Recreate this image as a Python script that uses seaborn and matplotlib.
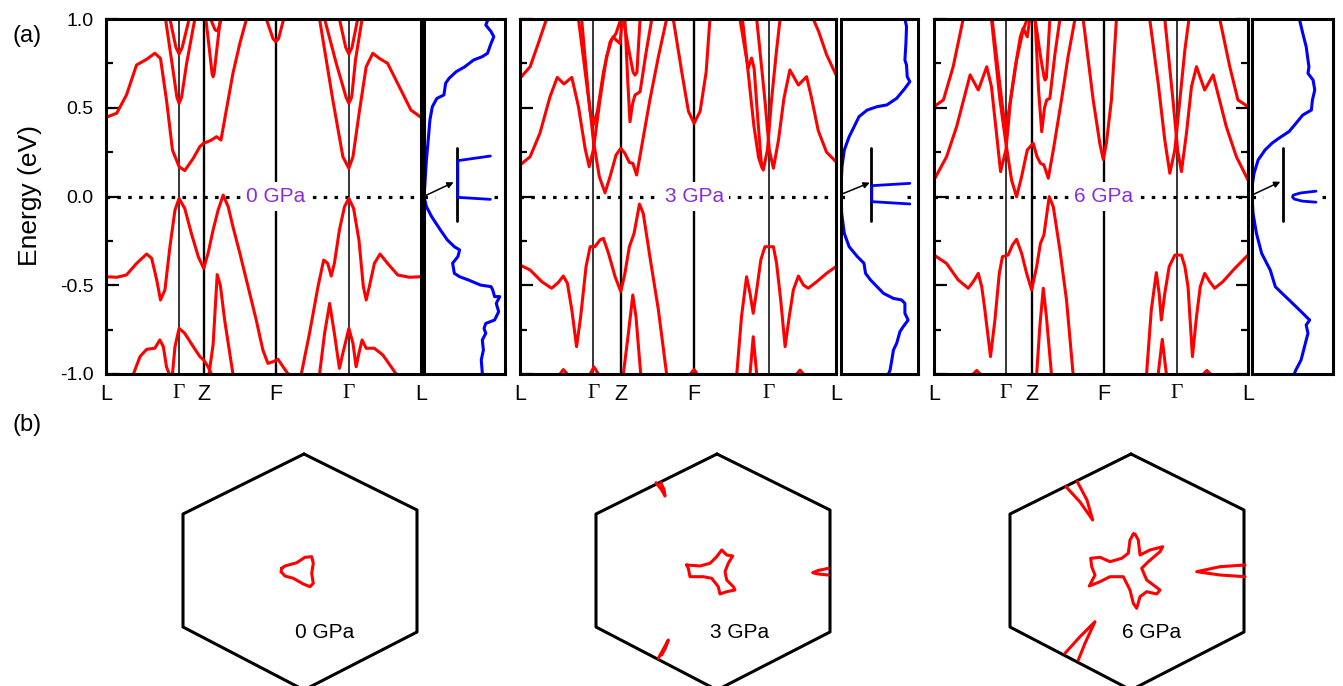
"""
Band structures, DOS and Fermi surfaces at 0, 3 and 6 GPa.
Values read off the reference figure by eye.
"""

import pandas as pd
import seaborn as sns
import matplotlib
matplotlib.use('Agg')
import matplotlib.pyplot as plt

sns.set_style('ticks', rc={'text.color': 'black', 'xtick.color': 'black',
                           'ytick.color': 'black', 'axes.labelcolor': 'black'})
plt.rcParams['font.family'] = ['Liberation Sans', 'DejaVu Sans']
plt.rcParams['axes.unicode_minus'] = False

###
# Labels

PRESSURES = ['0 GPa', '3 GPa', '6 GPa']
KPATH_LABELS = ['L', 'Γ', 'Z', 'F', 'Γ', 'L']
KPATH_POS = [[0, .232, .310, .539, .771, 1],
             [0, .232, .319, .551, .787, 1],
             [0, .229, .313, .541, .774, 1]]
E_MAJOR = [-1.0, -0.5, 0.0, 0.5, 1.0]
E_MINOR = [-0.75, -0.25, 0.25, 0.75]

###
# Bands at 0 GPa, (k along path, E in eV)

B0_CB1 = [(0, .446), (.034, .469), (.065, .572), (.097, .741), (.129, .773), (.155, .807),
          (.173, .778), (.192, .544), (.211, .262), (.232, .168), (.250, .146), (.277, .215),
          (.298, .281), (.310, .300), (.332, .315), (.351, .337), (.365, .318), (.382, .487),
          (.403, .694), (.425, .863), (.446, 1.0)]
B0_CB1R = [(.678, 1.0), (.720, .544), (.752, .224), (.771, .159), (.784, .224), (.805, .487),
           (.826, .731), (.847, .807), (.868, .778), (.894, .750), (.931, .619), (.968, .487),
           (1.0, .446)]
B0_G1 = [(.189, 1.0), (.208, .769), (.225, .56), (.232, .525), (.240, .56), (.256, .75), (.282, 1.0)]
B0_G2 = [(.203, 1.0), (.222, .84), (.232, .803), (.242, .84), (.264, 1.0)]
B0_G3 = [(.694, 1.0), (.731, .75), (.762, .56), (.771, .525), (.780, .56), (.792, .769), (.813, 1.0)]
B0_G4 = [(.741, 1.0), (.761, .84), (.771, .803), (.781, .84), (.799, 1.0)]
B0_Z1 = [(.317, 1.0), (.330, .80), (.337, .69), (.340, .675), (.343, .69), (.350, .80), (.363, 1.0)]
B0_Z2 = [(.332, 1.0), (.346, .94), (.351, .934), (.356, .94), (.366, 1.0)]
B0_F1 = [(.509, 1.0), (.530, .89), (.539, .872), (.548, .89), (.564, 1.0)]
B0_VB1 = [(0, -.452), (.034, -.455), (.065, -.442), (.097, -.377), (.129, -.324), (.145, -.348),
          (.161, -.470), (.173, -.583), (.187, -.527), (.203, -.283), (.219, -.076), (.232, -.011),
          (.250, -.067), (.271, -.208), (.293, -.339), (.310, -.405), (.324, -.320), (.340, -.189),
          (.356, -.076), (.372, .008), (.388, -.058), (.403, -.170), (.425, -.320), (.451, -.508),
          (.477, -.696), (.498, -.865), (.514, -.940), (.530, -.931), (.546, -.917), (.562, -.959),
          (.578, -1.0)]
B0_VB1R = [(.620, -1.0), (.646, -.771), (.673, -.508), (.691, -.358), (.704, -.377), (.715, -.448),
           (.725, -.377), (.741, -.189), (.757, -.058), (.771, -.011), (.786, -.067), (.803, -.245),
           (.817, -.508), (.826, -.583), (.836, -.508), (.852, -.377), (.870, -.324), (.894, -.377),
           (.926, -.442), (.963, -.455), (1.0, -.452)]
B0_VB2 = [(.087, -1.0), (.108, -.902), (.129, -.861), (.155, -.855), (.171, -.808), (.182, -.846),
          (.192, -.959), (.201, -1.0)]
B0_VB3 = [(.211, -1.0), (.219, -.846), (.232, -.743), (.250, -.771), (.277, -.846), (.298, -.902),
          (.310, -.921), (.324, -.959), (.335, -1.0)]
B0_VB4 = [(.327, -1.0), (.340, -.835), (.353, -.44), (.363, -.50), (.377, -.70), (.403, -1.0)]
B0_VB2R = [(.678, -1.0), (.694, -.771), (.710, -.602), (.725, -.771), (.741, -.968), (.752, -.883),
           (.771, -.743), (.784, -.827), (.794, -.959), (.803, -.883), (.813, -.808), (.826, -.855),
           (.852, -.855), (.879, -.893), (.905, -.959), (.921, -1.0)]

###
# Bands at 3 GPa

B3_C0 = [(0, .666), (.032, .731), (.058, .863), (.084, 1.0)]
B3_CB1 = [(0, .177), (.032, .224), (.063, .356), (.095, .562), (.118, .671), (.139, .634),
          (.164, .671), (.185, .506), (.206, .271), (.219, .168), (.232, .262), (.253, .544),
          (.274, .788), (.290, .882), (.304, .919), (.319, 1.0)]
B3_CB2 = [(.195, 1.0), (.216, .581), (.232, .318), (.251, .112), (.269, .021), (.285, .112),
          (.304, .234), (.319, .271), (.332, .243), (.346, .192), (.357, .187), (.369, .121),
          (.385, .281), (.411, .544), (.438, .788), (.464, 1.0)]
B3_G1 = [(.185, 1.0), (.205, .72), (.222, .48), (.232, .403), (.245, .48), (.264, .70),
         (.285, .87), (.295, .90), (.305, .88), (.316, .863), (.325, 1.0)]
B3_CB1R = [(1.0, .196), (.970, .25), (.944, .37), (.922, .56), (.907, .675), (.881, .628),
           (.854, .713), (.835, .55), (.818, .318), (.802, .159), (.789, .262), (.775, .544),
           (.759, .826), (.749, 1.0)]
B3_CB2R = [(.696, 1.0), (.711, .84), (.722, .722), (.733, .78), (.741, .72), (.752, .45),
           (.763, .20), (.770, .149), (.783, .262), (.796, .544), (.812, .826), (.823, 1.0)]
B3_G3 = [(.704, 1.0), (.722, .70), (.740, .40), (.755, .22), (.766, .16)]
B3_C0R = [(1.0, .685), (.970, .80), (.945, .93), (.928, 1.0)]
B3_F1 = [(.485, 1.0), (.512, .70), (.533, .48), (.551, .412), (.570, .48), (.589, .70), (.601, 1.0)]
B3_Z1 = [(.332, 1.0), (.341, .65), (.348, .421), (.356, .52), (.364, .572), (.380, .590),
         (.398, .80), (.417, 1.0)]
B3_Z2 = [(.327, 1.0), (.345, .82), (.358, .70), (.364, .684), (.370, .70), (.380, 1.0)]
B3_VB1 = [(0, -.386), (.032, -.414), (.069, -.480), (.100, -.517), (.121, -.485), (.137, -.448),
          (.150, -.489), (.164, -.639), (.179, -.846), (.192, -.677), (.209, -.395), (.222, -.283),
          (.237, -.283), (.253, -.245), (.264, -.236), (.280, -.320), (.301, -.452), (.319, -.536),
          (.332, -.433), (.346, -.283), (.361, -.208), (.378, -.043), (.390, -.095), (.411, -.339),
          (.438, -.639), (.464, -1.0)]
B3_VB1R = [(.686, -1.0), (.701, -.677), (.717, -.452), (.728, -.546), (.738, -.658), (.749, -.527),
           (.762, -.358), (.775, -.283), (.802, -.283), (.812, -.377), (.825, -.583), (.839, -.846),
           (.852, -.677), (.865, -.527), (.881, -.448), (.897, -.499), (.912, -.517), (.939, -.480),
           (.970, -.433), (1.0, -.395)]
B3_VB2 = [(.327, -1.0), (.343, -.771), (.357, -.555), (.367, -.677), (.382, -1.0)]
B3_VB2R = [(.728, -1.0), (.738, -.79), (.749, -1.0)]
B3_BUMP1 = [(.127, -1.0), (.137, -.975), (.150, -1.0)]
B3_BUMP2 = [(.222, -1.0), (.234, -.96), (.248, -1.0)]
B3_BUMP3 = [(.539, -1.0), (.551, -.975), (.561, -1.0)]
B3_BUMP4 = [(.876, -1.0), (.886, -.978), (.897, -1.0)]

###
# Bands at 6 GPa

B6_C0 = [(0, .506), (.030, .544), (.061, .731), (.093, 1.0)]
B6_CB1 = [(0, .093), (.040, .224), (.072, .393), (.115, .685), (.141, .600), (.168, .731),
          (.183, .619), (.199, .356), (.212, .140), (.229, .262), (.244, .544), (.263, .769),
          (.284, .938), (.297, 1.0)]
B6_CB2 = [(.183, 1.0), (.210, .544), (.229, .300), (.247, .093), (.263, -.002), (.279, .112),
          (.297, .262), (.316, .300), (.328, .225), (.339, .187), (.350, .178), (.364, .103),
          (.380, .262), (.406, .544), (.427, .788), (.449, 1.0)]
B6_G1 = [(.185, 1.0), (.205, .70), (.222, .45), (.229, .384), (.240, .50), (.258, .72),
         (.275, .90), (.284, .948), (.297, .90), (.305, 1.0)]
B6_CB1R = [(1.0, .093), (.963, .224), (.931, .393), (.889, .685), (.862, .600), (.836, .731),
           (.820, .619), (.804, .356), (.788, .140), (.776, .262), (.761, .544), (.745, .826),
           (.735, 1.0)]
B6_CB2R = [(.687, 1.0), (.714, .638), (.735, .318), (.751, .131), (.767, .262), (.783, .544),
           (.799, .826), (.812, 1.0)]
B6_C0R = [(1.0, .506), (.968, .544), (.942, .731), (.910, 1.0)]
B6_F1 = [(.475, 1.0), (.507, .544), (.528, .30), (.539, .209), (.549, .30), (.565, .544), (.581, 1.0)]
B6_Z1 = [(.322, 1.0), (.333, .60), (.343, .365), (.352, .50), (.359, .544), (.369, .553),
         (.385, .80), (.401, 1.0)]
B6_Z2 = [(.322, 1.0), (.340, .78), (.351, .67), (.354, .656), (.358, .67), (.369, 1.0)]
B6_VB1 = [(0, -.330), (.040, -.377), (.077, -.470), (.109, -.517), (.125, -.480), (.141, -.433),
          (.152, -.508), (.162, -.639), (.180, -.902), (.194, -.696), (.208, -.433), (.218, -.339),
          (.236, -.330), (.250, -.273), (.263, -.241), (.279, -.320), (.295, -.433), (.311, -.527),
          (.327, -.395), (.339, -.264), (.350, -.217), (.367, -.001), (.380, -.058), (.401, -.301),
          (.422, -.583), (.443, -1.0)]
B6_VB1R = [(.677, -1.0), (.692, -.639), (.708, -.429), (.717, -.546), (.724, -.696), (.735, -.546),
           (.749, -.395), (.767, -.330), (.788, -.330), (.799, -.395), (.809, -.508), (.823, -.902),
           (.836, -.677), (.848, -.508), (.862, -.433), (.878, -.480), (.894, -.517), (.920, -.480),
           (.958, -.405), (1.0, -.330)]
B6_VB2 = [(.327, -1.0), (.337, -.733), (.348, -.517), (.358, -.677), (.374, -1.0)]
B6_VB2R = [(.714, -1.0), (.727, -.805), (.740, -1.0)]
B6_BUMP1 = [(.125, -1.0), (.136, -.98), (.147, -1.0)]
B6_BUMP2 = [(.858, -1.0), (.869, -.98), (.880, -1.0)]

BANDS = [
    [B0_CB1, B0_CB1R, B0_G1, B0_G2, B0_G3, B0_G4, B0_Z1, B0_Z2, B0_F1,
     B0_VB1, B0_VB1R, B0_VB2, B0_VB3, B0_VB4, B0_VB2R],
    [B3_C0, B3_CB1, B3_CB2, B3_G1, B3_CB1R, B3_CB2R, B3_G3, B3_C0R, B3_F1, B3_Z1, B3_Z2,
     B3_VB1, B3_VB1R, B3_VB2, B3_VB2R, B3_BUMP1, B3_BUMP2, B3_BUMP3, B3_BUMP4],
    [B6_C0, B6_CB1, B6_CB2, B6_G1, B6_CB1R, B6_CB2R, B6_C0R, B6_F1, B6_Z1, B6_Z2,
     B6_VB1, B6_VB1R, B6_VB2, B6_VB2R, B6_BUMP1, B6_BUMP2],
]

###
# Density of states (arb. units, E in eV)

DOS_0 = [(.784, .991), (.763, .966), (.828, .929), (.862, .900), (.828, .863), (.784, .807),
         (.720, .788), (.612, .769), (.504, .731), (.397, .703), (.310, .666), (.267, .638),
         (.246, .572), (.159, .553), (.103, .506), (.073, .431), (.052, .318), (.030, .206),
         (.009, .055), (0, -.001), (.030, -.057), (.095, -.114), (.203, -.189), (.289, -.245),
         (.375, -.283), (.440, -.301), (.418, -.339), (.353, -.376), (.375, -.433), (.440, -.452),
         (.547, -.470), (.698, -.499), (.828, -.508), (.849, -.527), (.871, -.564), (.935, -.564),
         (.892, -.602), (.922, -.649), (.871, -.696), (.763, -.715), (.741, -.743), (.763, -.771),
         (.720, -.808), (.733, -.865), (.707, -.921), (.720, -.996)]
DOS_3 = [(.830, 1.0), (.851, .957), (.843, .863), (.830, .769), (.851, .741), (.860, .675),
         (.894, .647), (.830, .609), (.723, .553), (.596, .516), (.468, .506), (.340, .487),
         (.234, .450), (.170, .393), (.106, .337), (.043, .262), (.013, .168), (0, .055),
         (0, -.001), (.009, -.095), (.043, -.208), (.106, -.283), (.213, -.339), (.298, -.376),
         (.319, -.433), (.383, -.470), (.468, -.508), (.553, -.546), (.681, -.574), (.787, -.583),
         (.830, -.602), (.830, -.658), (.872, -.696), (.809, -.733), (.766, -.761), (.723, -.827),
         (.681, -.865), (.660, -.921), (.638, -.977), (.617, -1.0)]
DOS_6 = [(.585, 1.0), (.627, .919), (.669, .844), (.691, .769), (.703, .731), (.691, .694),
         (.754, .656), (.775, .600), (.746, .544), (.733, .487), (.627, .459), (.542, .412),
         (.458, .366), (.331, .328), (.246, .300), (.161, .262), (.076, .206), (.025, .131),
         (0, .055), (0, -.001), (.013, -.095), (.055, -.208), (.119, -.320), (.203, -.395),
         (.225, -.414), (.288, -.508), (.373, -.546), (.458, -.583), (.585, -.639), (.669, -.677),
         (.712, -.696), (.669, -.724), (.691, -.771), (.648, -.846), (.606, -.921), (.542, -.977),
         (.521, -1.0)]
DOS = [DOS_0, DOS_3, DOS_6]

# gap insets inside the DOS panels
GAP_BAR_X = [0.41, 0.396, 0.386]
GAP_BAR_E = (-0.136, 0.271)
GAP_0 = [(.819, .228), (.418, .202), (.418, -.005), (.819, -.016)]
GAP_3 = [(.894, .074), (.40, .061), (.40, -.029), (.894, -.042)]
GAP_6 = [(.79, .03), (.60, .02), (.51, .008), (.50, -.003), (.52, -.014), (.62, -.026), (.79, -.032)]
GAPS = [GAP_0, GAP_3, GAP_6]
ARROW_TAIL = [(.009, .003), (.013, .014), (.013, .011)]
ARROW_HEAD = [(.366, .080), (.374, .078), (.350, .083)]

###
# Fermi surfaces in the hexagonal zone

HEX = [(.04, 1.18), (1.17, .62), (1.17, -.60), (.04, -1.18), (-1.17, -.55), (-1.17, .58), (.04, 1.18)]
FS0_CENTER = [(-.183, .037), (-.15, .06), (-.033, .093), (.05, .147), (.117, .153), (.133, .087),
              (.117, -.013), (.133, -.113), (.10, -.147), (.033, -.12), (-.067, -.063), (-.15, -.04),
              (-.19, .003), (-.183, .037)]
FS3_CENTER = [(-.263, .07), (-.13, .06), (-.03, .087), (.037, .153), (.087, .22), (.137, .17),
              (.197, .16), (.153, .087), (.12, .003), (.137, -.08), (.203, -.147), (.22, -.18),
              (.137, -.197), (.07, -.22), (.053, -.147), (-.013, -.063), (-.097, -.047),
              (-.23, -.047), (-.247, .037), (-.263, .07)]
FS3_UL = [(-.57, .893), (-.513, .82), (-.48, .76), (-.49, .827), (-.523, .893)]
FS3_R = [(1.153, .037), (1.05, .015), (.997, -.007), (1.05, -.02), (1.153, -.03)]
FS3_LL = [(-.547, -.863), (-.49, -.76), (-.447, -.68), (-.475, -.76), (-.513, -.83)]
FS6_CENTER = [(.063, .38), (.08, .38), (.113, .32), (.13, .17), (.23, .22), (.357, .253), (.33, .203),
              (.213, .103), (.147, .037), (.197, -.08), (.33, -.18), (.297, -.22), (.197, -.197),
              (.13, -.247), (.097, -.363), (.063, -.313), (.03, -.18), (-.037, -.047), (-.17, -.047),
              (-.27, -.097), (-.377, -.14), (-.32, -.03), (-.353, .053), (-.363, .137), (-.27, .147),
              (-.17, .103), (-.053, .137), (.013, .187), (.03, .32), (.063, .38)]
FS6_UL = [(-.61, .853), (-.47, .70), (-.343, .52), (-.40, .72), (-.497, .903)]
FS6_R = [(1.18, .07), (.93, .053), (.697, .003), (.93, -.03), (1.18, -.047)]
FS6_LL = [(-.62, -.813), (-.47, -.647), (-.32, -.497), (-.42, -.713), (-.487, -.88)]
FERMI = [[FS0_CENTER], [FS3_CENTER, FS3_UL, FS3_R, FS3_LL], [FS6_CENTER, FS6_UL, FS6_R, FS6_LL]]
FS_LABEL_XY = [(.25, -.607), (.263, -.607), (.247, -.607)]

###
# Layout (pixels of the 1343x686 canvas)

W, H = 1343, 686
BAND_X = [(106, 421), (520, 836), (934, 1248)]
DOS_X = [(424, 505), (841, 918), (1252, 1333)]
TOP_Y = (19, 374)
HEX_CX = [300, 713, 1127]
HEX_CY = 572

RED = '#ff0000'
BLUE = '#0000ff'
PURPLE = '#8a2be2'


def to_frame(curves):
    """Stack a list of (x, y) point lists into one long frame."""
    rows = [(i, j, x, y) for i, curve in enumerate(curves) for j, (x, y) in enumerate(curve)]
    return pd.DataFrame(rows, columns=['curve', 'order', 'x', 'y'])


def draw_curves(ax, curves, color, lw):
    """Draw each point list as its own polyline, in the order given."""
    sns.lineplot(data=to_frame(curves), x='x', y='y', units='curve', estimator=None,
                 errorbar=None, sort=False, color=color, lw=lw, ax=ax, legend=False)


def px_axes(fig, x0, x1, y0, y1):
    return fig.add_axes([x0 / W, 1 - y1 / H, (x1 - x0) / W, (y1 - y0) / H])


def style_frame(ax):
    for sp in ax.spines.values():
        sp.set_visible(True)
        sp.set_linewidth(2.2)
        sp.set_color('black')


def draw_band_panel(ax, i):
    kpos = KPATH_POS[i]
    for j, k in enumerate(kpos[1:-1]):
        ax.axvline(k, color='black', lw=1.1 if KPATH_LABELS[j + 1] == 'Γ' else 1.7, zorder=1)
    ax.axhline(0, color='black', lw=2.3, ls=(0, (1.1, 2.3)), zorder=1)
    draw_curves(ax, BANDS[i], RED, 2.2)
    ax.text(kpos[3], 0, PRESSURES[i], ha='center', va='center', color=PURPLE, fontsize=15,
            zorder=4, bbox=dict(boxstyle='square,pad=0.25', fc='white', ec='none'))
    ax.set_xlim(0, 1)
    ax.set_ylim(-1, 1)
    ax.set_xlabel('')
    ax.set_ylabel('')
    ax.set_xticks(kpos)
    ax.set_xticklabels(KPATH_LABELS)
    for lbl in ax.get_xticklabels():
        if lbl.get_text() == 'Γ':
            lbl.set_fontfamily(['Liberation Serif'])
    ax.tick_params(axis='x', length=0, pad=7, labelsize=15.5)
    ax.set_yticks(E_MAJOR)
    ax.set_yticks(E_MINOR, minor=True)
    ax.set_yticklabels(['%.1f' % e for e in E_MAJOR])
    ax.tick_params(axis='y', which='both', direction='in', width=1.6,
                   left=True, right=(i == 2), labelleft=(i == 0), labelsize=14, pad=9)
    ax.tick_params(axis='y', which='major', length=9)
    ax.tick_params(axis='y', which='minor', length=5)
    style_frame(ax)


def draw_dos_panel(ax, i):
    draw_curves(ax, [DOS[i]], BLUE, 2.2)
    for seg in [(0, .13), (.86, 1.0)]:
        ax.plot(seg, (0, 0), color='black', lw=2.3, ls=(0, (1.1, 2.3)))
    ax.plot([GAP_BAR_X[i]] * 2, GAP_BAR_E, color='black', lw=2.0)
    draw_curves(ax, [GAPS[i]], BLUE, 2.0)
    ax.annotate('', xy=ARROW_HEAD[i], xytext=ARROW_TAIL[i],
                arrowprops=dict(arrowstyle='-|>', color='black', lw=1.1,
                                mutation_scale=9, shrinkA=0, shrinkB=0))
    ax.set_xlim(0, 1)
    ax.set_ylim(-1, 1)
    ax.set_xticks([])
    ax.set_yticks([])
    ax.set_xlabel('')
    ax.set_ylabel('')
    style_frame(ax)


def draw_fermi(ax, i):
    draw_curves(ax, [HEX], 'black', 2.2)
    draw_curves(ax, FERMI[i], RED, 2.2)
    ax.text(*FS_LABEL_XY[i], PRESSURES[i], ha='center', va='center', fontsize=15)
    ax.set_xlim(-1.3, 1.3)
    ax.set_ylim(-1.3, 1.3)
    ax.axis('off')


def main():
    fig = plt.figure(figsize=(W / 100, H / 100), dpi=100)
    for i in range(3):
        draw_band_panel(px_axes(fig, *BAND_X[i], *TOP_Y), i)
        draw_dos_panel(px_axes(fig, *DOS_X[i], *TOP_Y), i)
        cx = HEX_CX[i]
        draw_fermi(px_axes(fig, cx - 130, cx + 130, HEX_CY - 130, HEX_CY + 130), i)
    fig.text(30 / W, 1 - 196 / H, 'Energy (eV)', rotation=90, ha='center', va='center', fontsize=19)
    fig.text(27 / W, 1 - 36 / H, '(a)', ha='center', va='center', fontsize=17)
    fig.text(27 / W, 1 - 425 / H, '(b)', ha='center', va='center', fontsize=17)
    fig.savefig('out.png', dpi=100)


if __name__ == '__main__':
    main()
